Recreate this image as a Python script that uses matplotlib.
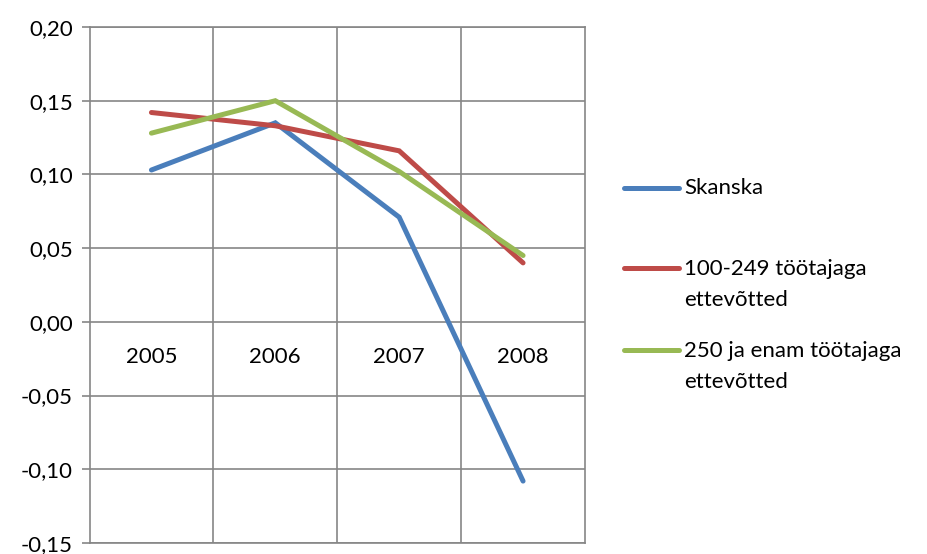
import matplotlib
matplotlib.use("Agg")
import matplotlib.pyplot as plt
from matplotlib.lines import Line2D

OUTPUT_IMAGE = "out.png"

years = ["2005", "2006", "2007", "2008"]
skanska = [0.103, 0.135, 0.071, -0.108]
keskmised = [0.142, 0.133, 0.116, 0.040]   # 100-249 töötajaga
suured = [0.128, 0.150, 0.102, 0.045]      # 250 ja enam töötajaga

series_labels = ["Skanska", "100-249 töötajaga\nettevõtted", "250 ja enam töötajaga\nettevõtted"]
colors = ["#4A7EBB", "#BE4B48", "#98B954"]
yticks = [-0.15, -0.10, -0.05, 0.00, 0.05, 0.10, 0.15, 0.20]

plt.rcParams["font.family"] = ["Lato", "DejaVu Sans"]
FS = 16
GRID = "#868686"

fig = plt.figure(figsize=(9.27, 5.54), dpi=100)
ax = fig.add_axes([89.5 / 927, 11 / 554, (585 - 89.5) / 927, (543 - 27) / 554])

x = list(range(len(years)))
for vals, c in zip([skanska, keskmised, suured], colors):
    ax.plot(x, vals, color=c, lw=3.6, solid_capstyle="round", solid_joinstyle="miter", zorder=3)

ax.set_xlim(-0.5, len(years) - 0.5)
ax.set_ylim(-0.15, 0.20)
ax.set_yticks(yticks)
ax.set_yticklabels([f"{v:.2f}".replace(".", ",") for v in yticks], fontsize=FS)
ax.tick_params(axis="y", length=6, width=1.2, color=GRID, pad=6)
ax.set_xticks([])

# gridlines
for v in yticks:
    ax.axhline(v, color=GRID, lw=1.2, zorder=1)
for b in [0.5, 1.5, 2.5]:
    ax.axvline(b, color=GRID, lw=1.2, zorder=1)
for s in ax.spines.values():
    s.set_color(GRID)
    s.set_linewidth(1.2)

# category labels below the zero line
for i, yr in enumerate(years):
    ax.text(i, -0.024, yr, ha="center", va="center", fontsize=FS)

# legend drawn by hand (line aligned with first text row)
leg_y = [188, 268, 350]
for lab, c, yp in zip(series_labels, colors, leg_y):
    fy = 1 - yp / 554
    fig.add_artist(Line2D([624 / 927, 679 / 927], [fy, fy], color=c, lw=3.6,
                          solid_capstyle="round", transform=fig.transFigure))
    if "\n" in lab:
        fig.text(684 / 927, fy + 0.016, lab, fontsize=FS, ha="left", va="top", linespacing=1.7)
    else:
        fig.text(684 / 927, fy, lab, fontsize=FS, ha="left", va="center")

fig.savefig(OUTPUT_IMAGE, dpi=100)
